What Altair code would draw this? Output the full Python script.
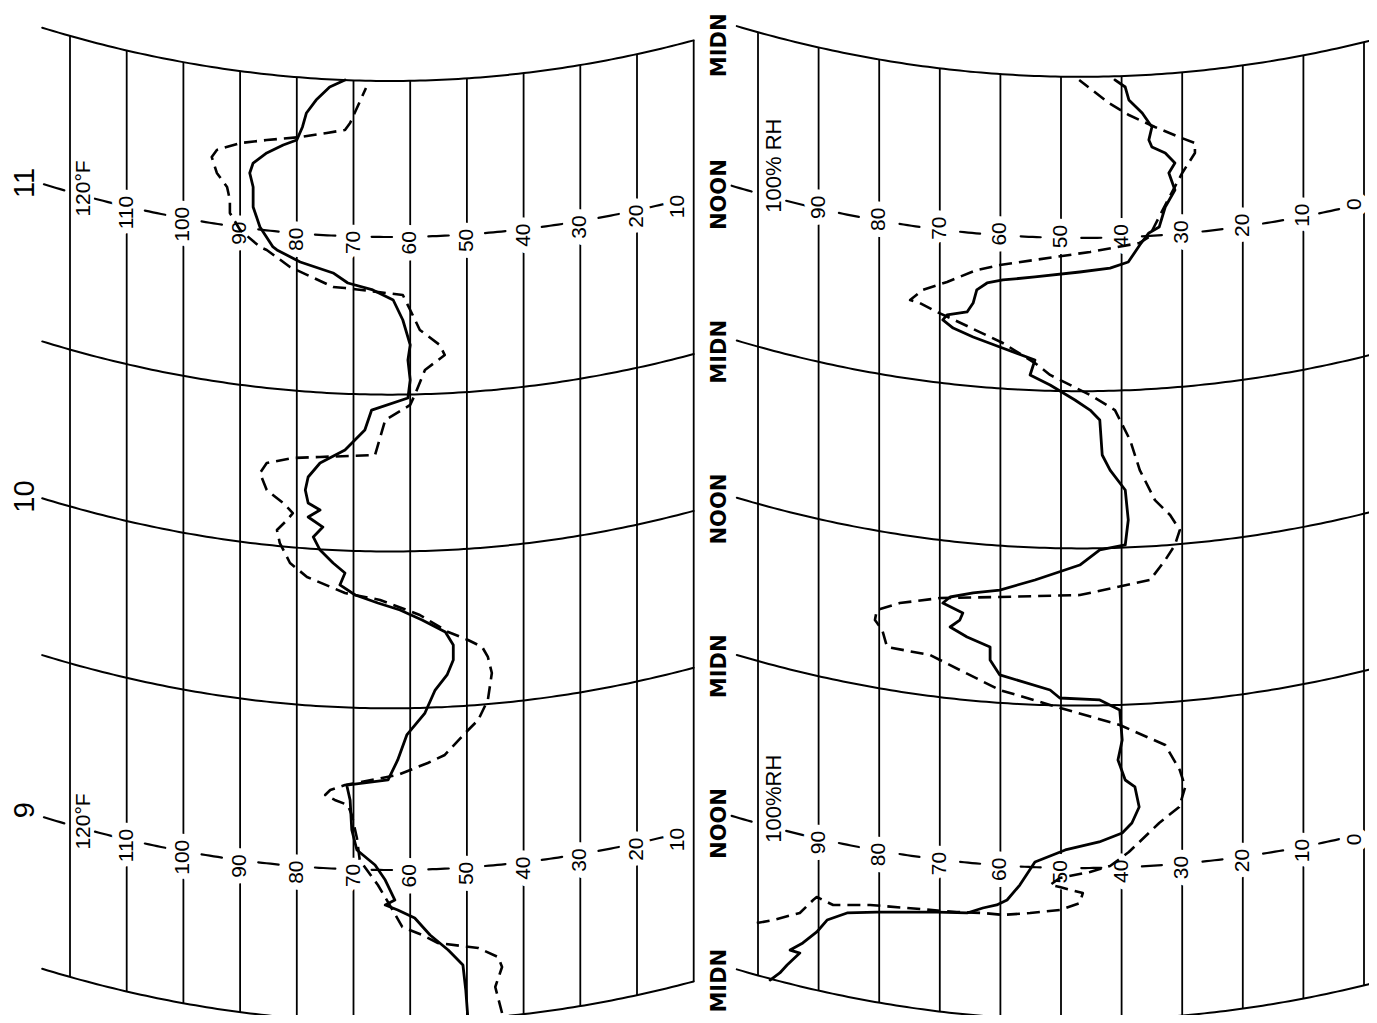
import altair as alt
import numpy as np
import pandas as pd

# ---------------- data (hours after midnight, start of day 9) ----------------
temp_solid = [(0.15,49.8),(2.45,50.2),(4.36,50.7),(5.51,53.3),(6.66,56.5),(7.96,59.2),(8.57,62.2),(8.95,64.4),
 (9.33,62.7),(10.86,64.4),(12.01,66.2),(13.16,69.4),(14.69,70.3),(16.99,70.6),(18.13,71.2),(18.52,63.9),
 (20.05,62.2),(21.96,60.6),(23.64,57.4),(25.4,55.6),(26.55,53.5),(27.7,52.4),(28.84,52.4),(29.84,53.8),
 (30.76,57.9),(31.52,61.8),(32.06,65.7),(32.67,69.7),(33.44,72.4),(34.35,71.5),(35.12,73.6),(36.11,75.9),
 (37.11,77.1),(37.87,75.4),(38.64,78.0),(39.17,75.9),(39.71,78.0),(40.7,78.5),(41.7,78.0),(42.77,75.9),
 (43.76,71.5),(45.29,68.0),(46.82,66.8),(47.74,60.4),(49.12,60.0),(50.65,60.4),(51.8,60.0),(53.71,61.3),
 (55.24,63.0),(56.01,66.6),(56.54,71.0),(57.31,73.6),(58.15,79.4),(59.07,83.5),(59.3,84.2),(60.83,86.5),
 (62.36,87.7),(63.89,87.7),(64.96,88.3),(65.72,87.7),(66.49,85.3),(67.1,82.4),(67.48,80.0),(68.48,79.0),
 (69.55,78.3),(70.54,76.6),(71.54,74.2),(72.07,71.5)]

temp_dash = [(0.69,43.8),(2.68,45.0),(4.21,43.8),(4.97,44.5),(5.66,48.0),(6.04,55.1),(6.66,57.9),(7.27,61.4),
 (8.95,63.6),(10.48,65.7),(12.39,68.9),(14.08,69.4),(15.84,70.3),(16.6,71.0),(16.99,73.3),(17.37,75.0),
 (17.75,74.1),(18.13,71.5),(18.9,62.2),(19.82,56.9),(20.43,53.9),(22.11,50.3),(23.11,48.0),(24.64,46.3),
 (26.7,45.6),(27.93,46.3),(28.69,47.3),(29.23,49.8),(29.84,53.3),(31.14,58.3),(32.29,65.3),(32.82,71.5),
 (34.05,78.2),(35.12,81.2),(36.65,83.0),(37.64,83.5),(38.41,81.7),(38.94,80.7),(39.71,82.4),(40.7,85.3),
 (42.0,86.5),(42.77,85.3),(43.15,80.7),(43.23,75.9),(43.38,66.2),(46.06,64.4),(47.21,60.0),(47.97,59.2),
 (49.89,57.4),(51.03,53.9),(51.8,54.8),(52.95,58.3),(54.48,60.0),(55.62,61.3),(56.16,71.5),(56.24,73.6),
 (57.77,81.2),(59.07,85.3),(59.3,86.5),(60.6,90.0),(61.9,91.8),(62.89,91.8),(63.89,92.3),(64.96,94.1),
 (66.18,95.0),(66.72,94.1),(67.25,90.0),(67.48,85.3),(67.71,79.4),(68.02,74.7),(68.25,71.5),(68.78,70.6),
 (71.46,67.8)]

rh_solid = [(3.05,98.0),(3.59,96.4),(4.2,95.2),(5.11,93.1),(5.34,94.7),(5.88,92.6),(6.72,90.3),(7.63,88.6),
 (8.17,85.3),(8.24,80.4),(8.24,70.5),(8.17,65.5),(8.55,62.9),(8.78,60.6),(9.16,58.9),(10.3,56.8),(12.06,54.3),
 (12.98,49.3),(13.59,43.7),(14.27,39.9),(15.04,38.3),(16.26,37.1),(17.79,37.8),(18.32,39.4),(19.85,40.6),
 (21.37,39.9),(23.66,40.3),(24.43,43.6),(24.58,50.2),(25.19,51.8),(26.34,60.1),(27.48,61.7),(28.47,61.7),
 (29.24,65.5),(30.0,68.3),(30.53,66.7),(31.07,66.2),(31.83,69.5),(32.29,68.3),(32.6,64.5),(32.82,60.1),
 (33.59,54.3),(34.73,46.9),(35.88,43.6),(36.26,39.4),(38.17,38.9),(40.46,39.4),(41.98,41.9),(43.13,43.2),
 (45.8,43.6),(46.56,45.2),(47.33,47.7),(48.47,51.8),(49.24,55.1),(50.38,54.3),(51.37,60.1),(52.14,64.5),
 (52.82,67.8),(53.44,69.5),(53.82,68.8),(54.05,65.5),(54.73,64.5),(55.73,63.9),(56.26,62.2),(56.49,59.6),
 (56.72,54.3),(57.1,46.9),(57.4,41.9),(57.86,38.9),(59.16,37.0),(60.08,35.5),(60.53,33.8),(62.06,32.8),
 (63.36,31.2),(64.66,32.2),(65.42,31.2),(66.18,32.8),(66.64,35.0),(67.18,35.5),(68.17,35.0),(69.24,36.6),
 (70.23,38.8),(71.22,39.4),(71.76,41.1)]

rh_dash = [(7.4,100.2),(7.63,97.5),(8.17,93.1),(9.16,90.9),(9.39,90.3),(8.78,87.6),(8.78,81.5),(8.55,75.4),
 (8.24,67.2),(8.17,62.9),(8.02,59.6),(8.17,55.1),(8.4,50.2),(8.93,46.9),(9.69,46.4),(10.15,50.2),(10.31,51.8),
 (10.84,50.2),(11.3,45.2),(11.76,41.9),(12.82,38.8),(15.04,33.8),(16.26,30.5),(17.79,29.5),(19.08,30.4),
 (20.99,32.8),(22.52,40.3),(24.05,51.8),(25.19,60.1),(26.72,66.7),(27.86,71.6),(28.47,78.7),(29.77,79.5),
 (30.53,80.7),(31.3,80.4),(31.83,76.6),(32.21,70.0),(32.29,60.1),(32.44,46.9),(33.59,35.3),(35.11,32.8),
 (36.26,31.2),(37.4,30.4),(38.55,32.0),(39.69,34.5),(41.98,37.0),(44.27,38.6),(46.56,41.1),(47.71,45.2),
 (49.24,51.8),(50.15,54.3),(51.68,59.6),(53.59,68.3),(54.05,70.5),(54.73,73.3),(54.96,74.9),(55.73,72.8),
 (56.34,68.8),(57.25,63.9),(57.63,60.1),(58.02,54.3),(58.63,45.2),(59.31,37.1),(59.77,35.5),(62.21,32.8),
 (64.66,30.0),(66.18,27.9),(66.95,27.9),(67.4,30.5),(68.17,34.5),(69.08,38.8),(70.0,42.1),(71.76,47.0)]

day_labels = ["9", "10", "11"]
day_noons = [12, 36, 60]
time_marks = [0, 12, 24, 36, 48, 60, 72]
time_names = ["MIDN", "NOON", "MIDN", "NOON", "MIDN", "NOON", "MIDN"]
arc_hours = [0, 24, 36, 48, 72]
temp_ticks = [120, 110, 100, 90, 80, 70, 60, 50, 40, 30, 20, 10]
rh_ticks = [100, 90, 80, 70, 60, 50, 40, 30, 20, 10, 0]

# ---------------- chart geometry (recorder chart) ----------------
W, H = 1361, 1007
LX = alt.Scale(domain=[0, 130], range=[742.4, 5.3], nice=False, zero=False)
LY = alt.Scale(domain=[-6, 78], range=[1092.42, -5.46], nice=False, zero=False)
RX = alt.Scale(domain=[-10, 110], range=[1416.6, 689.4], nice=False, zero=False)
RY = alt.Scale(domain=[-6, 78], range=[1090.6, -9.8], nice=False, zero=False)


def lsag(v):  # pen-arc offset in hours, temperature chart
    return 0.014145 * (np.asarray(v) - 63.56) ** 2 / 13.07


def rsag(v):  # pen-arc offset in hours, humidity chart
    return 0.01579 * (np.asarray(v) - 46.86) ** 2 / 13.1


def enc(xs, ys):
    return dict(x=alt.X("v:Q", scale=xs, axis=None), y=alt.Y("h:Q", scale=ys, axis=None))


def line_layer(df, xs, ys, width, dash=None, group=False):
    kw = dict(color="black", strokeWidth=width, strokeCap="round", strokeJoin="round")
    if dash is not None:
        kw["strokeDash"] = dash
        kw["strokeCap"] = "butt"
    e = enc(xs, ys)
    e["order"] = alt.Order("i:Q")
    if group:
        e["detail"] = alt.Detail("g:N")
    return alt.Chart(df).mark_line(**kw).encode(**e)


def arcs_df(times, v0, v1, sag):
    rows = []
    vs = np.linspace(v0, v1, 120)
    for g, t in enumerate(times):
        for i, v in enumerate(vs):
            rows.append(dict(g=g, i=i, v=v, h=t + float(sag(v))))
    return pd.DataFrame(rows)


def verticals_df(ticks, sag):
    return pd.DataFrame([dict(v=v, h=0 + float(sag(v)), h2=72 + float(sag(v))) for v in ticks])


def dash_df(stops, t, half, sag, gid0=0):
    rows = []
    for k in range(len(stops) - 1):
        mid = (stops[k] + stops[k + 1]) / 2
        for i, v in enumerate(np.linspace(mid + half, mid - half, 6)):
            rows.append(dict(g=gid0 + k, i=i, v=v, h=t + float(sag(v))))
    return rows


def labels_df(vals, pos, t, sag, texts=None):
    return pd.DataFrame([dict(v=p, h=t + float(sag(p)), txt=(texts[k] if texts else str(v)))
                         for k, (v, p) in enumerate(zip(vals, pos))])


def text_layers(df, xs, ys, size, font="Liberation Sans", align="center", weight="normal", halo=0):
    out = []
    e = enc(xs, ys)
    e["text"] = alt.Text("txt:N")
    if halo:
        out.append(alt.Chart(df).mark_text(angle=270, align=align, baseline="middle", font=font,
                                           fontSize=size, fontWeight=weight, color="white",
                                           stroke="white", strokeWidth=halo,
                                           strokeJoin="round").encode(**e))
    out.append(alt.Chart(df).mark_text(angle=270, align=align, baseline="middle", font=font,
                                       fontSize=size, fontWeight=weight, color="black").encode(**e))
    return out


def curve_df(pairs):
    return pd.DataFrame([dict(i=i, h=h, v=v) for i, (h, v) in enumerate(pairs)])


layers = []

# ---- temperature chart (left) ----
lv = verticals_df(temp_ticks, lsag)
layers.append(alt.Chart(lv).mark_rule(color="black", strokeWidth=1.8).encode(
    x=alt.X("v:Q", scale=LX, axis=None), y=alt.Y("h:Q", scale=LY, axis=None), y2="h2:Q"))
layers.append(line_layer(arcs_df(arc_hours, 124.9, 10.0, lsag), LX, LY, 2.0, group=True))
lstops = [128.0, 117.6, 110, 100, 90, 80, 70, 60, 50, 40, 30, 20, 12.8]
ldash = pd.DataFrame(dash_df(lstops, 11.63, 1.8, lsag, 0) + dash_df(lstops, 60.06, 1.8, lsag, 100))
layers.append(line_layer(ldash, LX, LY, 2.2, group=True))
tvals = temp_ticks[1:]
tpos = tvals[:-1] + [12.8]
for t in (11.17, 59.6):
    layers += text_layers(labels_df(tvals, tpos, t, lsag), LX, LY, 21, halo=14)
for t in (11.63, 60.06):
    hh = t + float(lsag(117.6)) - 1.6
    layers += text_layers(pd.DataFrame([dict(v=117.6, h=hh, txt="120°F")]), LX, LY, 21, align="left")
dl = pd.DataFrame([dict(v=127.9, h=n + 4.2, txt=d) for d, n in zip(day_labels, day_noons)])
layers += text_layers(dl, LX, LY, 29)

# ---- humidity chart (right) ----
rv = verticals_df(rh_ticks, rsag)
layers.append(alt.Chart(rv).mark_rule(color="black", strokeWidth=1.8).encode(
    x=alt.X("v:Q", scale=RX, axis=None), y=alt.Y("h:Q", scale=RY, axis=None), y2="h2:Q"))
layers.append(line_layer(arcs_df(arc_hours, 103.5, -0.8, rsag), RX, RY, 2.0, group=True))
rstops = [108.0, 97.4, 90, 80, 70, 60, 50, 40, 30, 20, 10, 1.5]
rdash = pd.DataFrame(dash_df(rstops, 11.6, 1.65, rsag, 0) + dash_df(rstops, 59.7, 1.65, rsag, 100))
layers.append(line_layer(rdash, RX, RY, 2.2, group=True))
rvals = rh_ticks[1:]
rpos = rvals[:-1] + [1.5]
for t in (11.3, 59.8):
    layers += text_layers(labels_df(rvals, rpos, t, rsag), RX, RY, 21, halo=14)
for t, lab in ((11.6, "100%RH"), (59.7, "100% RH")):
    hh = t + float(rsag(97.4)) - 1.15
    layers += text_layers(pd.DataFrame([dict(v=97.4, h=hh, txt=lab)]), RX, RY, 22, align="left")
tl = pd.DataFrame([dict(v=106.3, h=min(t + 3.0, 74.4), txt=n) for t, n in zip(time_marks, time_names)])
layers += text_layers(tl, RX, RY, 21, font="DejaVu Sans", weight="bold")

# ---- recorded traces ----
layers.append(line_layer(curve_df(temp_dash), LX, LY, 2.6, dash=[13, 7]))
layers.append(line_layer(curve_df(temp_solid), LX, LY, 2.8))
layers.append(line_layer(curve_df(rh_dash), RX, RY, 2.6, dash=[13, 7]))
layers.append(line_layer(curve_df(rh_solid), RX, RY, 2.8))

chart = alt.layer(*layers).resolve_scale(x="independent", y="independent").properties(
    width=W, height=H, padding=0, autosize="none", background="white"
).configure_view(stroke=None)

chart.save("out.html", embed_options={"renderer": "svg", "actions": False})
